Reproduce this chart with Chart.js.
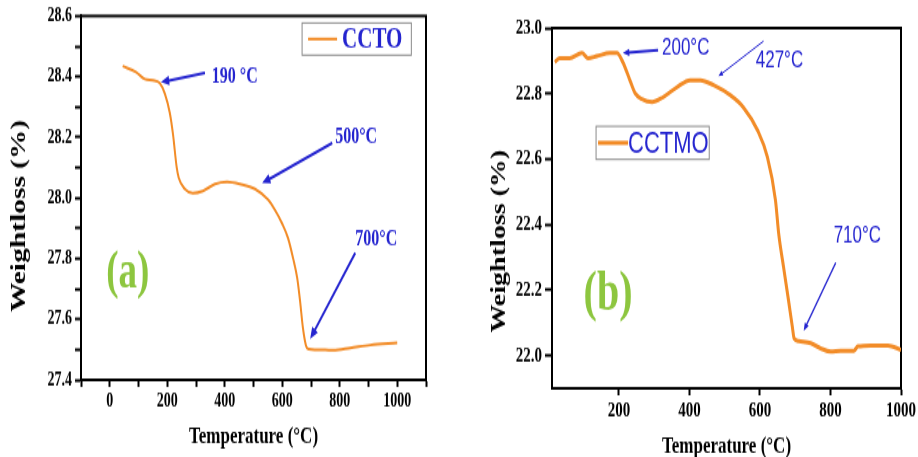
<!DOCTYPE html>
<html>
<head>
<meta charset="utf-8">
<script src="https://cdn.jsdelivr.net/npm/chart.js@4"></script>
<style>
body { margin: 0; background: #fff; width: 918px; height: 457px; overflow: hidden; position: relative; }
canvas { position: absolute; top: 0; }
</style>
</head>
<body>
<!-- drawn at 326px tall and stretched to 457px, the reference figure is stretched the same way -->
<canvas id="chartA" width="465" height="326" style="left:0;width:465px;height:457px"></canvas>
<canvas id="chartB" width="453" height="326" style="left:465px;width:453px;height:457px"></canvas>
<script>
// (a) CCTO
const cctoTemp   = [45, 91, 122, 150, 174, 192, 209, 220, 233, 240, 261, 289, 324, 366, 408, 453, 505, 550, 575, 600, 620, 638, 652, 662, 672, 683, 692, 749, 777, 836, 906, 1000]
const cctoWeight = [28.435, 28.415, 28.392, 28.388, 28.379, 28.343, 28.280, 28.210, 28.100, 28.066, 28.030, 28.016, 28.023, 28.046, 28.053, 28.046, 28.030, 27.995, 27.960, 27.915, 27.868, 27.800, 27.736, 27.660, 27.571, 27.512, 27.502, 27.499, 27.498, 27.505, 27.515, 27.522]
const cctoXTicks  = [-100, 0, 100, 200, 300, 400, 500, 600, 700, 800, 900, 1000, 1100]
const cctoXLabels = [0, 200, 400, 600, 800, 1000]
const cctoYTicks  = [27.4, 27.5, 27.6, 27.7, 27.8, 27.9, 28.0, 28.1, 28.2, 28.3, 28.4, 28.5, 28.6]
const cctoYLabels = [27.4, 27.6, 27.8, 28.0, 28.2, 28.4, 28.6]

// (b) CCTMO
const cctmoTemp   = [18, 32, 60, 95, 112, 137, 174, 194, 211, 231, 246, 265, 294, 325, 365, 402, 431, 468, 516, 553, 593, 621, 644, 653, 667, 681, 692, 697, 710, 744, 772, 801, 829, 866, 878, 915, 963, 1000]
const cctmoWeight = [22.896, 22.908, 22.908, 22.924, 22.908, 22.914, 22.924, 22.924, 22.896, 22.841, 22.801, 22.783, 22.774, 22.789, 22.820, 22.841, 22.841, 22.826, 22.795, 22.758, 22.688, 22.606, 22.474, 22.373, 22.269, 22.168, 22.086, 22.052, 22.044, 22.038, 22.022, 22.012, 22.015, 22.015, 22.028, 22.031, 22.031, 22.018]
const cctmoXTicks  = [200, 400, 600, 800, 1000]
const cctmoXLabels = [200, 400, 600, 800, 1000]
const cctmoYTicks  = [22.0, 22.2, 22.4, 22.6, 22.8, 23.0]
const cctmoYLabels = [22.0, 22.2, 22.4, 22.6, 22.8, 23.0]

// arrows + labels, in data units (temperature, weight)
const cctoNotes = [
  { text: '190 °C', at: [355, 28.400], from: [331, 28.412], to: [178, 28.382] },
  { text: '500°C',  at: [784, 28.201], from: [774, 28.181], to: [530, 28.049] },
  { text: '700°C',  at: [854, 27.865], from: [854, 27.819], to: [697, 27.535] }
]
const cctmoNotes = [
  { text: '200°C', at: [322, 22.939], from: [311, 22.933], to: [211, 22.924], w: 2, head: 7 },
  { text: '427°C', at: [588, 22.902], from: [610, 22.960], to: [482, 22.853], w: 1, head: 5 },
  { text: '710°C', at: [809, 22.367], from: [815, 22.284], to: [724, 22.076], w: 1.3, head: 6 }
]

const serif = 'Liberation Serif'
const sans = 'Liberation Sans'
const blue = '#2424cf'
const orange = '#f28c28'

function near(list, v) {
  return list.some(x => Math.abs(x - v) < 1e-6)
}

const framePlugin = {
  id: 'frame',
  beforeDatasetsDraw(chart, args, opts) {
    const a = chart.chartArea
    const ctx = chart.ctx
    ctx.save()
    ctx.strokeStyle = '#000'
    ctx.lineWidth = 2
    ctx.strokeRect(a.left, a.top, a.right - a.left, a.bottom - a.top)
    ctx.restore()
  }
}

function arrow(ctx, x1, y1, x2, y2, w, head) {
  const ang = Math.atan2(y2 - y1, x2 - x1)
  ctx.lineWidth = w
  ctx.beginPath()
  ctx.moveTo(x1, y1)
  ctx.lineTo(x2 - Math.cos(ang) * head * 0.7, y2 - Math.sin(ang) * head * 0.7)
  ctx.stroke()
  ctx.beginPath()
  ctx.moveTo(x2, y2)
  ctx.lineTo(x2 - head * Math.cos(ang - 0.4), y2 - head * Math.sin(ang - 0.4))
  ctx.lineTo(x2 - head * Math.cos(ang + 0.4), y2 - head * Math.sin(ang + 0.4))
  ctx.closePath()
  ctx.fill()
}

const notesPlugin = {
  id: 'notes',
  afterDatasetsDraw(chart, args, opts) {
    const ctx = chart.ctx
    const xs = chart.scales.x
    const ys = chart.scales.y
    const px = t => xs.getPixelForValue(t)
    const py = w => ys.getPixelForValue(w)
    ctx.save()

    // arrows and temperature labels
    ctx.strokeStyle = blue
    ctx.fillStyle = blue
    ctx.font = opts.noteFont
    ctx.textAlign = 'left'
    ctx.textBaseline = 'middle'
    opts.notes.forEach(n => {
      arrow(ctx, px(n.from[0]), py(n.from[1]), px(n.to[0]), py(n.to[1]), n.w || 2, n.head || 9)
      ctx.fillText(n.text, px(n.at[0]), py(n.at[1]))
    })

    // panel letter
    ctx.fillStyle = '#8dc63f'
    ctx.font = opts.panel.font
    ctx.textAlign = 'center'
    ctx.fillText(opts.panel.text, px(opts.panel.at[0]), py(opts.panel.at[1]))

    // legend box
    const lg = opts.legend
    const ds = chart.data.datasets[0]
    const bx1 = px(lg.box[0]), by1 = py(lg.box[1]), bx2 = px(lg.box[2]), by2 = py(lg.box[3])
    ctx.fillStyle = '#fff'
    ctx.fillRect(bx1, by1, bx2 - bx1, by2 - by1)
    ctx.strokeStyle = '#8a8a8a'
    ctx.lineWidth = 1
    ctx.strokeRect(bx1, by1, bx2 - bx1, by2 - by1)
    const my = (by1 + by2) / 2
    ctx.strokeStyle = ds.borderColor
    ctx.lineWidth = ds.borderWidth
    ctx.beginPath()
    ctx.moveTo(bx1 + lg.pad, my)
    ctx.lineTo(bx1 + lg.pad + lg.len, my)
    ctx.stroke()
    ctx.fillStyle = blue
    ctx.font = lg.font
    ctx.textAlign = 'left'
    ctx.fillText(ds.label, bx1 + lg.pad + lg.len + lg.gap, my + 1)

    // y axis title
    const yt = opts.yTitle
    ctx.translate(yt.x, yt.y)
    ctx.rotate(-Math.PI / 2)
    ctx.fillStyle = '#000'
    ctx.font = yt.font
    ctx.textAlign = 'center'
    ctx.fillText(yt.text, 0, 0)
    ctx.restore()
  }
}

function makeChart(id, cfg) {
  return new Chart(document.getElementById(id), {
    type: 'line',
    data: {
      datasets: [{
        label: cfg.label,
        data: cfg.temp.map((t, i) => ({ x: t, y: cfg.weight[i] })),
        borderColor: orange,
        borderWidth: cfg.lineWidth,
        pointRadius: 0,
        fill: false,
        cubicInterpolationMode: 'monotone'
      }]
    },
    options: {
      responsive: false,
      animation: false,
      devicePixelRatio: 1,
      layout: { padding: cfg.padding },
      plugins: {
        legend: { display: false },
        tooltip: { enabled: false },
        notes: cfg.notes
      },
      scales: {
        x: {
          type: 'linear',
          min: cfg.xMin,
          max: cfg.xMax,
          afterBuildTicks: s => { s.ticks = cfg.xTicks.map(v => ({ value: v })) },
          afterFit: s => { s.height = cfg.xHeight },
          ticks: {
            autoSkip: false,
            maxRotation: 0,
            padding: 2,
            color: '#000',
            font: { family: serif, weight: 'bold', size: cfg.tickSize },
            callback: v => near(cfg.xLabels, v) ? String(v) : ''
          },
          grid: { drawOnChartArea: false, drawTicks: true, tickLength: 5, tickWidth: 2, color: '#000' },
          border: { display: true, color: '#000', width: 2 },
          title: {
            display: true,
            text: 'Temperature (°C)',
            color: '#000',
            font: { family: serif, weight: 'bold', size: 17 },
            padding: { top: 0, bottom: cfg.xTitlePad }
          }
        },
        y: {
          type: 'linear',
          min: cfg.yMin,
          max: cfg.yMax,
          afterBuildTicks: s => { s.ticks = cfg.yTicks.map(v => ({ value: v })) },
          afterFit: s => { s.width = cfg.yWidth },
          ticks: {
            autoSkip: false,
            padding: 3,
            color: '#000',
            font: { family: serif, weight: 'bold', size: cfg.tickSize },
            callback: v => near(cfg.yLabels, v) ? v.toFixed(1) : ''
          },
          grid: { drawOnChartArea: false, drawTicks: true, tickLength: cfg.yTickLen, tickWidth: 2, color: '#000' },
          border: { display: true, color: '#000', width: 2 }
        }
      }
    },
    plugins: [framePlugin, notesPlugin]
  })
}

makeChart('chartA', {
  label: 'CCTO',
  temp: cctoTemp, weight: cctoWeight, lineWidth: 2,
  xMin: -100, xMax: 1100, yMin: 27.4, yMax: 28.6,
  xTicks: cctoXTicks, xLabels: cctoXLabels, yTicks: cctoYTicks, yLabels: cctoYLabels,
  padding: { top: 11, right: 39, left: 0, bottom: 0 },
  xHeight: 55, yWidth: 81, yTickLen: 6, tickSize: 14, xTitlePad: 4,
  notes: {
    notes: cctoNotes,
    noteFont: 'bold 16px ' + serif,
    panel: { text: '(a)', at: [63, 27.75], font: 'bold 37px ' + serif },
    legend: { box: [669, 28.577, 1049, 28.471], pad: 6, len: 29, gap: 5, font: 'bold 21px ' + serif },
    yTitle: { text: 'Weightloss (%)', x: 20, y: 154, font: 'bold 21px ' + serif }
  }
})

makeChart('chartB', {
  label: 'CCTMO',
  temp: cctmoTemp, weight: cctmoWeight, lineWidth: 3,
  xMin: 10, xMax: 1000, yMin: 21.9, yMax: 23.0,
  xTicks: cctmoXTicks, xLabels: cctmoXLabels, yTicks: cctmoYTicks, yLabels: cctmoYLabels,
  padding: { top: 20, right: 17, left: 0, bottom: 0 },
  xHeight: 49, yWidth: 87, yTickLen: 7, tickSize: 15, xTitlePad: -3,
  notes: {
    notes: cctmoNotes,
    noteFont: '17px ' + sans,
    panel: { text: '(b)', at: [169, 22.183], font: 'bold 40px ' + serif },
    legend: { box: [135, 22.700, 456, 22.599], pad: 2, len: 30, gap: 0, font: '22px ' + sans },
    yTitle: { text: 'Weightloss (%)', x: 35, y: 172, font: 'bold 20px ' + serif }
  }
})
</script>
</body>
</html>
